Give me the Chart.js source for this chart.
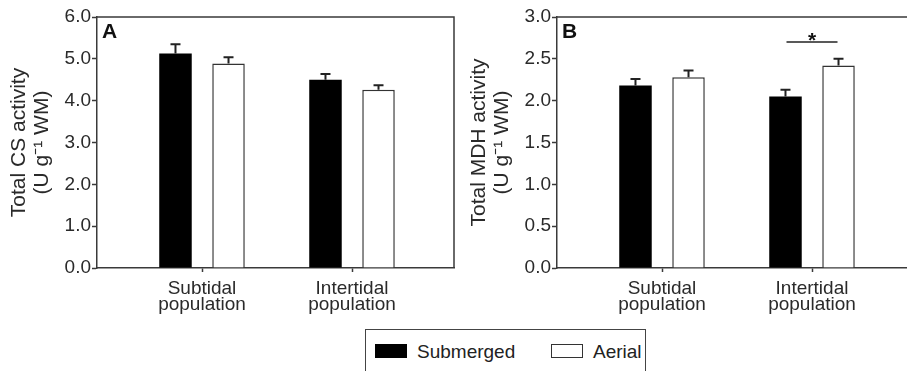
<!DOCTYPE html>
<html>
<head>
<meta charset="utf-8">
<script src="https://cdn.jsdelivr.net/npm/chart.js@4"></script>
<style>
  html, body { margin: 0; padding: 0; background: #fff; overflow: hidden; }
  #wrap { position: relative; width: 907px; height: 371px; overflow: hidden; }
  .panel { position: absolute; top: 0; }
  #panelA { left: 0; }
  #panelB { left: 460px; }
  #legend {
    position: absolute; left: 365px; top: 329px; width: 281px; height: 60px;
    border: 1.5px solid #444; box-sizing: border-box;
    font-family: "Liberation Sans", Arial, sans-serif; font-size: 19px; color: #222;
  }
  #legend .item { position: absolute; top: 12px; height: 20px; line-height: 20px; }
  #legend .swatch {
    display: inline-block; width: 32px; height: 14px; box-sizing: border-box;
    vertical-align: middle; margin-right: 10px; margin-top: -3px;
  }
</style>
</head>
<body>
<div id="wrap">
  <div class="panel" id="panelA"><canvas id="chartA" width="470" height="320"></canvas></div>
  <div class="panel" id="panelB"><canvas id="chartB" width="470" height="320"></canvas></div>
  <div id="legend"></div>
</div>
<script>
// categorias (dos lineas cada una)
const categories = [["Subtidal", "population"], ["Intertidal", "population"]];
const seriesNames = ["Submerged", "Aerial"];

// Panel A: actividad total de CS
const csSubmerged = [5.13, 4.50];
const csSubmergedErr = [0.22, 0.14];
const csAerial = [4.89, 4.26];
const csAerialErr = [0.15, 0.11];

// Panel B: actividad total de MDH
const mdhSubmerged = [2.18, 2.05];
const mdhSubmergedErr = [0.08, 0.08];
const mdhAerial = [2.28, 2.42];
const mdhAerialErr = [0.08, 0.08];

// diferencia significativa en panel B (categoria, altura de la linea)
const mdhSignificance = [{ category: 1, value: 2.70, label: "*" }];

const axisColor = "#3a3a3a";
const textColor = "#2a2a2a";
const fontFamily = "'Liberation Sans', Arial, Helvetica, sans-serif";

Chart.defaults.font.family = fontFamily;
Chart.defaults.color = textColor;

function toPoints(values) {
  return values.map((v, i) => ({ x: i, y: v }));
}

// barras de error (solo hacia arriba, con tapa)
const errorBars = {
  id: "errorBars",
  afterDatasetsDraw(chart) {
    const ctx = chart.ctx;
    const yScale = chart.scales.y;
    chart.data.datasets.forEach((ds, i) => {
      const meta = chart.getDatasetMeta(i);
      meta.data.forEach((bar, j) => {
        const top = yScale.getPixelForValue(ds.data[j].y + ds.errors[j]);
        ctx.save();
        ctx.strokeStyle = "#222";
        ctx.lineWidth = 2;
        ctx.beginPath();
        ctx.moveTo(bar.x, bar.y);
        ctx.lineTo(bar.x, top);
        ctx.moveTo(bar.x - 5, top);
        ctx.lineTo(bar.x + 5, top);
        ctx.stroke();
        ctx.restore();
      });
    });
  },
};

// marco superior/derecho y letra del panel
const frame = {
  id: "frame",
  afterDraw(chart, args, opts) {
    const { ctx, chartArea: a } = chart;
    ctx.save();
    ctx.strokeStyle = axisColor;
    ctx.lineWidth = 1.5;
    ctx.beginPath();
    ctx.moveTo(a.left, a.top);
    ctx.lineTo(a.right, a.top);
    ctx.lineTo(a.right, a.bottom);
    ctx.stroke();
    ctx.fillStyle = "#111";
    ctx.font = "bold 21px " + fontFamily;
    ctx.textBaseline = "alphabetic";
    ctx.fillText(opts.letter, a.left + 5, a.top + 21);
    ctx.restore();
  },
};

// linea y asterisco de significancia
const significance = {
  id: "significance",
  afterDraw(chart, args, opts) {
    const items = opts.items || [];
    const { ctx } = chart;
    const xs = chart.scales.x;
    const ys = chart.scales.y;
    items.forEach((s) => {
      const y = ys.getPixelForValue(s.value);
      ctx.save();
      ctx.strokeStyle = "#222";
      ctx.lineWidth = 1.5;
      ctx.beginPath();
      ctx.moveTo(xs.getPixelForValue(s.category - 0.17), y);
      ctx.lineTo(xs.getPixelForValue(s.category + 0.17), y);
      ctx.stroke();
      ctx.fillStyle = "#111";
      ctx.font = "bold 21px " + fontFamily;
      ctx.textAlign = "center";
      ctx.textBaseline = "alphabetic";
      ctx.fillText(s.label, xs.getPixelForValue(s.category), y + 5);
      ctx.restore();
    });
  },
};

function buildChart(canvasId, submerged, submergedErr, aerial, aerialErr, yMax, yStep, yTitle, letter, sig) {
  return new Chart(document.getElementById(canvasId), {
    type: "bar",
    data: {
      datasets: [
        {
          label: seriesNames[0],
          data: toPoints(submerged),
          errors: submergedErr,
          backgroundColor: "#000",
          borderColor: "#000",
          borderWidth: 0,
          categoryPercentage: 0.707,
          barPercentage: 0.613,
        },
        {
          label: seriesNames[1],
          data: toPoints(aerial),
          errors: aerialErr,
          backgroundColor: "#fff",
          borderColor: "#333",
          borderWidth: 1.5,
          categoryPercentage: 0.707,
          barPercentage: 0.613,
        },
      ],
    },
    options: {
      responsive: false,
      animation: false,
      devicePixelRatio: 1,
      layout: { padding: { top: 17, right: 16, left: 0, bottom: 0 } },
      scales: {
        x: {
          type: "linear",
          min: -0.7,
          max: 1.68,
          offset: false,
          afterBuildTicks: (s) => {
            s.ticks = categories.map((c, i) => ({ value: i }));
          },
          afterFit: (s) => {
            s.height = 52;
          },
          border: { display: true, color: axisColor, width: 1.5 },
          grid: {
            display: true,
            offset: false,
            drawOnChartArea: false,
            drawTicks: true,
            tickLength: 4,
            tickColor: axisColor,
            tickWidth: 1.5,
          },
          ticks: {
            autoSkip: false,
            maxRotation: 0,
            padding: 9,
            color: textColor,
            font: { size: 19, lineHeight: 0.85 },
            callback: (v) => categories[v],
          },
        },
        y: {
          min: 0,
          max: yMax,
          afterFit: (s) => {
            s.width = 97;
          },
          border: { display: true, color: axisColor, width: 1.5 },
          grid: {
            display: true,
            drawOnChartArea: false,
            drawTicks: true,
            tickLength: 5,
            tickColor: axisColor,
            tickWidth: 1.5,
          },
          ticks: {
            stepSize: yStep,
            padding: 1,
            color: textColor,
            font: { size: 19 },
            callback: (v) => v.toFixed(1),
          },
          title: {
            display: true,
            text: yTitle,
            color: textColor,
            font: { size: 21, lineHeight: 1.1 },
            padding: { top: 8, bottom: 0 },
          },
        },
      },
      plugins: {
        legend: { display: false },
        tooltip: { enabled: false },
        frame: { letter: letter },
        significance: { items: sig },
      },
    },
    plugins: [errorBars, frame, significance],
  });
}

buildChart("chartA", csSubmerged, csSubmergedErr, csAerial, csAerialErr, 6, 1,
  ["Total CS activity", "(U g\u207B\u00B9 WM)"], "A", []);
buildChart("chartB", mdhSubmerged, mdhSubmergedErr, mdhAerial, mdhAerialErr, 3, 0.5,
  ["Total MDH activity", "(U g\u207B\u00B9 WM)"], "B", mdhSignificance);

// leyenda comun
const legend = document.getElementById("legend");
const legendStyles = [
  { left: 9, swatch: "background:#000;" },
  { left: 185, swatch: "background:#fff;border:1.5px solid #333;" },
];
seriesNames.forEach((name, i) => {
  const item = document.createElement("div");
  item.className = "item";
  item.style.left = legendStyles[i].left + "px";
  item.innerHTML = '<span class="swatch" style="' + legendStyles[i].swatch + '"></span>' + name;
  legend.appendChild(item);
});
</script>
</body>
</html>
